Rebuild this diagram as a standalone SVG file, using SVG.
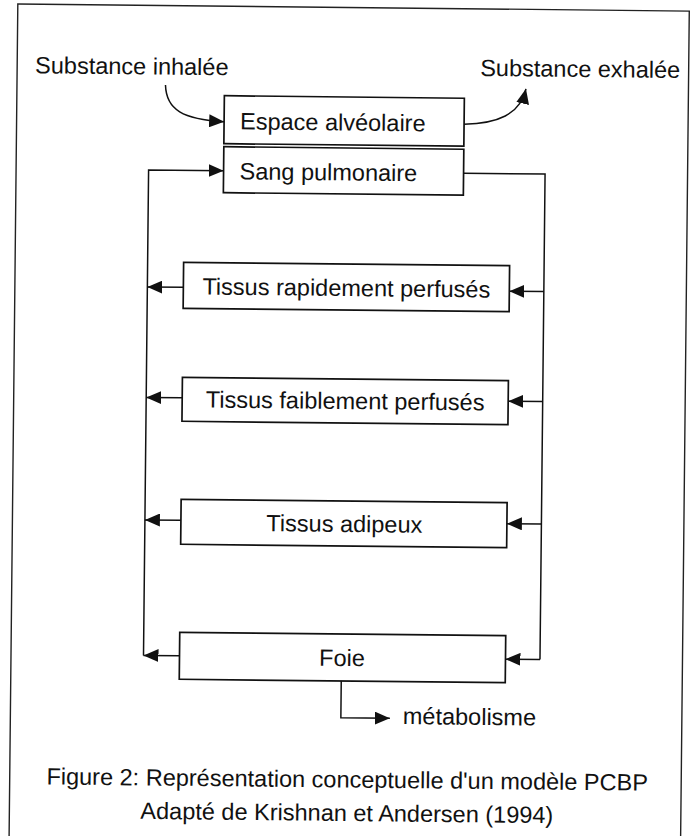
<svg xmlns="http://www.w3.org/2000/svg" width="692" height="836" viewBox="0 0 692 836">
<style>
  .box{fill:#fff;stroke:#111;stroke-width:1.7}
  .ln{fill:none;stroke:#111;stroke-width:1.5}
  .arr{marker-end:url(#ah)}
  text{font-family:"Liberation Sans",Arial,Helvetica,sans-serif;font-size:23.5px;fill:#111}
  .c{text-anchor:middle}
</style>
<defs>
  <marker id="ah" markerUnits="userSpaceOnUse" markerWidth="16" markerHeight="13" refX="15" refY="6.5" orient="auto" viewBox="0 0 16 13">
    <path d="M0,0 L15,6.5 L0,13 z" fill="#111"/>
  </marker>
</defs>
<rect width="692" height="836" fill="#fff"/>
<g transform="rotate(0.6 346 418)">
  <rect id="frame" x="13.5" y="7.5" width="671.5" height="870" fill="none" stroke="#222" stroke-width="1.4"/>

  <g id="connectors">
    <path class="ln arr" d="M162,87 C163,112 180,121 221,123"/>
    <path class="ln arr" d="M461,123 C494,122 517,113 522.5,87"/>
    <path class="ln arr" d="M146,657.5 V172 H221"/>
    <path class="ln" d="M461,172 H542.5 V657.5"/>
    <path class="ln arr" d="M182,289 H146"/>
    <path class="ln arr" d="M542.5,289.5 H508"/>
    <path class="ln arr" d="M182,399.5 H146"/>
    <path class="ln arr" d="M542.5,399.5 H508"/>
    <path class="ln arr" d="M182,522 H146"/>
    <path class="ln arr" d="M542.5,522 H508"/>
    <path class="ln arr" d="M182,657.5 H146"/>
    <path class="ln arr" d="M542.5,657.5 H508"/>
    <path class="ln arr" d="M344,681 V717.8 H393"/>
  </g>

  <g id="inhale">
    <text x="31.5" y="76.5">Substance inhalée</text>
  </g>
  <g id="exhale">
    <text x="676.5" y="74.5" text-anchor="end">Substance exhalée</text>
  </g>

  <g id="espace">
    <rect class="box" x="221" y="97" width="240" height="48"/>
    <text x="237" y="130.5">Espace alvéolaire</text>
  </g>
  <g id="sang">
    <rect class="box" x="221" y="148" width="240" height="46"/>
    <text x="237" y="180.5">Sang pulmonaire</text>
  </g>
  <g id="rapide">
    <rect class="box" x="182" y="264" width="326" height="46"/>
    <text class="c" x="345" y="296">Tissus rapidement perfusés</text>
  </g>
  <g id="faible">
    <rect class="box" x="182" y="379" width="326" height="44"/>
    <text class="c" x="345" y="409">Tissus faiblement perfusés</text>
  </g>
  <g id="adipeux">
    <rect class="box" x="182" y="501" width="326" height="45"/>
    <text class="c" x="345.5" y="532">Tissus adipeux</text>
  </g>
  <g id="foie">
    <rect class="box" x="182" y="634" width="326" height="47"/>
    <text class="c" x="344.5" y="666">Foie</text>
  </g>
  <g id="metabolisme">
    <text x="406" y="723.5">métabolisme</text>
  </g>

  <g id="caption">
    <text class="c" x="351" y="787.5">Figure 2: Représentation conceptuelle d'un modèle PCBP</text>
    <text class="c" x="351" y="821">Adapté de Krishnan et Andersen (1994)</text>
  </g>
</g>
</svg>
